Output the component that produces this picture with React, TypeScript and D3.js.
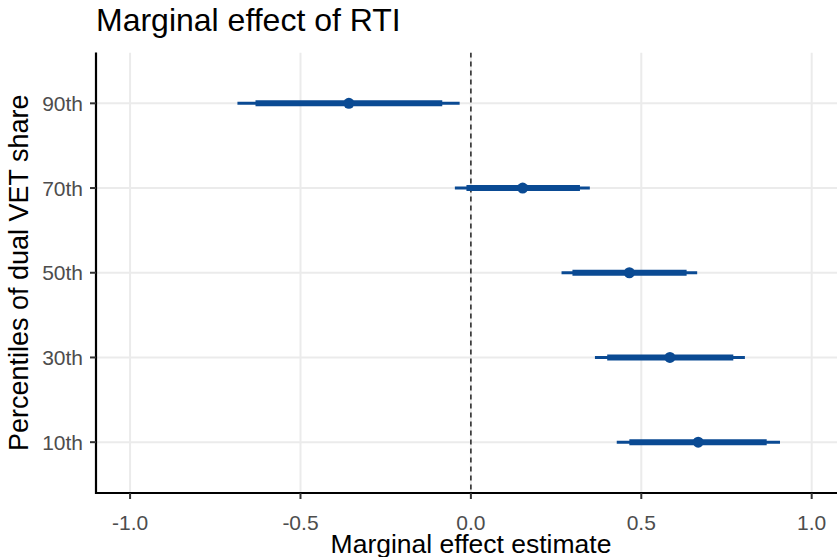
import React from "react";
import * as d3 from "d3";

const categories = ["10th", "30th", "50th", "70th", "90th"];
const estimates = [0.667, 0.584, 0.465, 0.152, -0.358];
const lower95 = [0.428, 0.364, 0.266, -0.047, -0.685];
const upper95 = [0.907, 0.804, 0.664, 0.349, -0.033];
const lower90 = [0.465, 0.4, 0.298, -0.013, -0.632];
const upper90 = [0.868, 0.77, 0.633, 0.32, -0.084];
const xTicks = [-1.0, -0.5, 0.0, 0.5, 1.0];

const W = 837;
const H = 557;
const left = 96;
const top = 52.5;
const bottom = 493;
const color = "#0a4a93";

export default function App() {
  const x = d3.scaleLinear().domain([-1.1, 1.1]).range([left, 471 + 1.1 * 340.7]);
  const y = d3
    .scalePoint<string>()
    .domain(categories.slice().reverse())
    .range([top, bottom])
    .padding(0.6);
  const font = "Liberation Sans, Arial, Helvetica, sans-serif";
  return (
    <svg
      width={W}
      height={H}
      style={{ position: "absolute", left: 0, top: 0, background: "#fff" }}
      fontFamily={font}
    >
      <defs>
        <clipPath id="panel">
          <rect x={left} y={top} width={W - left} height={bottom - top} />
        </clipPath>
      </defs>
      {/* grid */}
      <g clipPath="url(#panel)">
        {xTicks.map((t) => (
          <line key={"gx" + t} x1={x(t)} x2={x(t)} y1={top} y2={bottom} stroke="#ebebeb" strokeWidth={2} />
        ))}
        {categories.map((c) => (
          <line key={"gy" + c} x1={left} x2={W} y1={y(c)} y2={y(c)} stroke="#ebebeb" strokeWidth={2} />
        ))}
        <line
          x1={x(0)}
          x2={x(0)}
          y1={top}
          y2={bottom}
          stroke="#222"
          strokeWidth={1.5}
          strokeDasharray="5,4"
        />
        {categories.map((c, i) => (
          <g key={"m" + c}>
            <line x1={x(lower95[i])} x2={x(upper95[i])} y1={y(c)} y2={y(c)} stroke={color} strokeWidth={3} />
            <line x1={x(lower90[i])} x2={x(upper90[i])} y1={y(c)} y2={y(c)} stroke={color} strokeWidth={6} />
            <circle cx={x(estimates[i])} cy={y(c)} r={5.5} fill={color} />
          </g>
        ))}
      </g>
      {/* axes */}
      <line x1={left} x2={W} y1={bottom} y2={bottom} stroke="#000" strokeWidth={2.2} />
      <line x1={left} x2={left} y1={top} y2={bottom + 1.1} stroke="#000" strokeWidth={2.2} />
      {xTicks.map((t) => (
        <g key={"xt" + t}>
          <line x1={x(t)} x2={x(t)} y1={bottom} y2={bottom + 6} stroke="#333" strokeWidth={2} />
          <text x={x(t)} y={530} textAnchor="middle" fontSize={21} fill="#4d4d4d">
            {d3.format(".1f")(t).replace("−", "-")}
          </text>
        </g>
      ))}
      {categories.map((c) => (
        <g key={"yt" + c}>
          <line x1={left - 6} x2={left} y1={y(c)} y2={y(c)} stroke="#333" strokeWidth={2} />
          <text x={83} y={(y(c) as number) + 7.5} textAnchor="end" fontSize={21} fill="#4d4d4d">
            {c}
          </text>
        </g>
      ))}
      <text x={471} y={552.5} textAnchor="middle" fontSize={26.5} fill="#000">
        Marginal effect estimate
      </text>
      <text
        transform={`translate(28,${(top + bottom) / 2}) rotate(-90)`}
        textAnchor="middle"
        fontSize={27}
        fill="#000"
      >
        Percentiles of dual VET share
      </text>
      <text x={96} y={30.5} fontSize={32} fill="#000">
        Marginal effect of RTI
      </text>
    </svg>
  );
}
